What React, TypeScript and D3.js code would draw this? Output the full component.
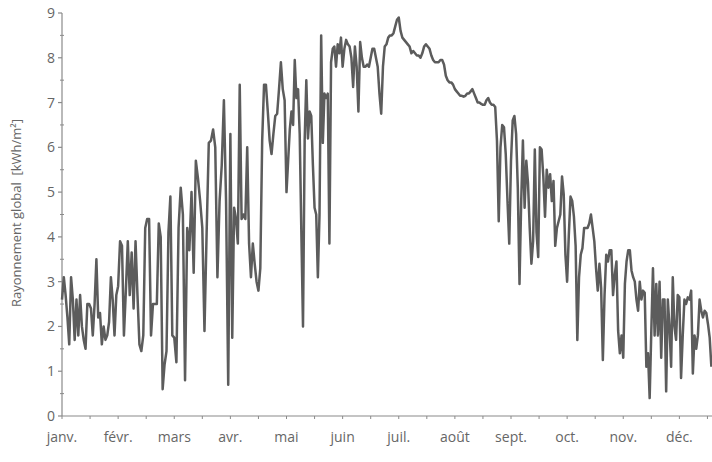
import React from "react";
import * as d3 from "d3";

const monthLabels = ["janv.", "févr.", "mars", "avr.", "mai", "juin", "juil.", "août", "sept.", "oct.", "nov.", "déc."];
const yTicks = [0, 1, 2, 3, 4, 5, 6, 7, 8, 9];

const jan = [2.6, 3.1, 2.7, 2.2, 1.6, 3.1, 2.6, 1.7, 2.6, 1.8, 2.7, 2.0, 1.7, 1.5, 2.5, 2.5, 2.4, 1.8, 2.5, 3.5, 2.2, 2.3, 1.6, 2.0, 1.7, 1.8, 2.1, 3.1, 2.6, 1.8, 2.7];
const feb = [2.9, 3.9, 3.8, 1.8, 2.8, 3.9, 2.7, 3.65, 2.4, 3.9, 2.7, 1.6, 1.45, 1.8, 4.2, 4.4, 4.4, 1.8, 2.5, 2.5, 2.5, 4.3, 4.0, 0.6, 1.15, 1.45, 4.1, 4.9, 1.8];
const mar = [1.75, 1.2, 4.2, 5.1, 4.5, 0.8, 4.2, 3.7, 5.0, 3.2, 5.7, 5.3, 4.8, 4.2, 1.9, 4.1, 6.1, 6.15, 6.4, 6.0, 3.1, 4.8, 5.6, 7.05, 4.8, 0.7];
const apr = [6.3, 1.75, 4.65, 4.4, 3.85, 7.4, 4.4, 4.5, 4.4, 6.0, 3.85, 3.1, 3.85, 3.4, 3.0, 2.8, 3.3, 6.15, 7.4, 7.4, 6.8, 6.15, 5.85, 6.3, 6.7, 6.75, 7.3, 7.9, 7.3, 7.05];
const may = [5.0, 5.7, 6.4, 6.8, 6.5, 7.95, 7.1, 7.3, 6.3, 4.1, 2.0, 6.15, 7.5, 6.2, 6.8, 6.7, 5.6, 4.65, 4.5, 3.1, 4.5, 8.5, 6.1, 7.2, 7.1, 7.2, 3.85, 7.9, 8.2, 8.25, 7.8, 8.3, 8.1, 8.45];
const jun = [7.8, 8.2, 8.4, 8.3, 8.25, 8.0, 7.35, 8.25, 7.8, 6.8, 8.35, 8.0, 7.8, 7.8, 7.85, 7.8, 8.0, 8.2, 8.2, 8.0, 7.8, 7.2, 6.75, 7.8, 8.25, 8.3, 8.45, 8.5, 8.5, 8.55, 8.7, 8.85];
const jul = [8.9, 8.6, 8.45, 8.4, 8.35, 8.3, 8.25, 8.1, 8.15, 8.1, 8.05, 8.05, 8.0, 8.1, 8.25, 8.3, 8.25, 8.2, 8.05, 7.95, 7.9, 7.9, 7.9, 7.95, 7.95, 7.85, 7.6, 7.5, 7.45, 7.45, 7.4];
const aug = [7.3, 7.25, 7.2, 7.15, 7.15, 7.13, 7.15, 7.2, 7.2, 7.25, 7.3, 7.2, 7.1, 7.0, 7.0, 6.97, 6.95, 6.95, 7.05, 7.1, 7.0, 6.95, 6.95, 6.9, 6.15, 4.35, 6.0, 6.5, 6.45, 5.85, 4.8, 3.85];
const sep = [5.7, 6.6, 6.7, 6.3, 5.1, 2.95, 4.8, 6.15, 4.65, 5.7, 5.2, 4.2, 3.4, 3.9, 5.95, 4.1, 3.55, 6.0, 5.95, 5.35, 4.45, 5.5, 5.1, 5.4, 4.8, 5.25, 3.8, 4.2, 4.35, 4.5, 5.35, 4.95, 3.6];
const oct = [3.0, 4.05, 4.9, 4.8, 4.45, 3.8, 1.7, 3.1, 3.6, 3.75, 4.2, 4.2, 4.2, 4.3, 4.5, 4.2, 3.9, 3.3, 2.8, 3.4, 2.85, 1.25, 2.7, 3.6, 3.45, 3.7, 3.7, 2.7, 3.15, 3.45, 1.9, 1.4, 1.8];
const nov = [1.3, 2.95, 3.45, 3.7, 3.7, 3.25, 3.1, 3.0, 2.6, 2.35, 3.0, 2.6, 2.8, 2.75, 1.1, 1.4, 0.4, 1.9, 3.3, 1.8, 2.95, 1.8, 3.0, 1.3, 2.6, 2.6, 0.55, 2.6, 2.0, 1.1, 3.1, 2.0, 1.7, 2.7];
const dec = [2.65, 0.85, 1.8, 2.6, 2.5, 2.65, 2.6, 2.8, 0.95, 1.8, 1.5, 1.8, 2.6, 2.35, 2.2, 2.35, 2.3, 2.05, 1.75, 1.1];

const months = [jan, feb, mar, apr, may, jun, jul, aug, sep, oct, nov, dec];
// fraction of each month covered by the readings (the picture is cut in December)
const coverage = [1, 1, 1, 1, 1, 1, 1, 1, 1, 1, 1, 0.6];

const W = 712;
const H = 462;

export default function App() {
  const x = d3.scaleLinear().domain([0, 12]).range([62, 735.5]);
  const y = d3.scaleLinear().domain([0, 9]).range([416, 13]);

  const pts: { t: number; v: number }[] = [];
  months.forEach((arr, m) => {
    arr.forEach((v, i) => pts.push({ t: m + (i / arr.length) * coverage[m], v }));
  });

  const line = d3
    .line<{ t: number; v: number }>()
    .x((d) => x(d.t))
    .y((d) => y(d.v));

  const xTicks = d3.range(0, 24).map((i) => i / 2).filter((t) => x(t) <= W);
  const yMinor = d3.range(0, 9).map((i) => i + 0.5);
  const axisColor = "#8a8a8a";
  const textColor = "#666";
  const font = "'Open Sans', 'Noto Sans', sans-serif";

  return (
    <svg
      width={W}
      height={H}
      style={{ position: "absolute", left: 0, top: 0, background: "#fff" }}
      fontFamily={font}
    >
      <rect x={0} y={0} width={W} height={H} fill="#fff" />
      {/* y axis */}
      <line x1={x(0)} x2={x(0)} y1={y(9)} y2={y(0)} stroke={axisColor} strokeWidth={1.2} />
      {yTicks.map((t) => (
        <g key={"yt" + t}>
          <line x1={x(0) - 4} x2={x(0)} y1={y(t)} y2={y(t)} stroke={axisColor} strokeWidth={1.2} />
          <text x={x(0) - 7} y={y(t)} dy="0.36em" textAnchor="end" fontSize={14} fill={textColor}>
            {t}
          </text>
        </g>
      ))}
      {yMinor.map((t) => (
        <line key={"ym" + t} x1={x(0) - 2} x2={x(0) + 2} y1={y(t)} y2={y(t)} stroke={axisColor} strokeWidth={1} />
      ))}
      {/* x axis */}
      <line x1={x(0)} x2={W} y1={y(0)} y2={y(0)} stroke={axisColor} strokeWidth={1.2} />
      {xTicks.map((t) => (
        <line key={"xt" + t} x1={x(t)} x2={x(t)} y1={y(0)} y2={y(0) + 3} stroke={axisColor} strokeWidth={1} />
      ))}
      {monthLabels.map((lab, i) => (
        <text key={lab} x={x(i)} y={442} textAnchor="middle" fontSize={14} fill={textColor}>
          {lab}
        </text>
      ))}
      <text
        transform={`translate(21, ${213}) rotate(-90)`}
        textAnchor="middle"
        fontSize={13}
        fill={textColor}
        style={{ whiteSpace: "pre" }}
      >
        {"Rayonnement global  [kWh/m²]"}
      </text>
      <path d={line(pts) || ""} fill="none" stroke="#5c5c5c" strokeWidth={2.5} strokeLinejoin="round" />
    </svg>
  );
}
